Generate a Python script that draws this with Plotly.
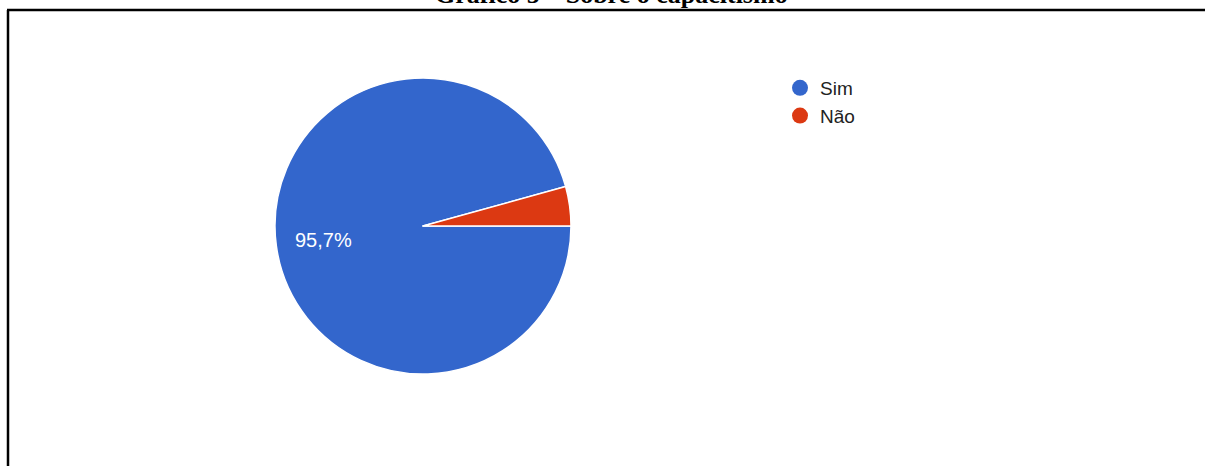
import math
import plotly.graph_objects as go

categories = ["Sim", "Não"]
values = [95.7, 4.3]
labels_text = ["95,7%", ""]
colors = ["#3366CC", "#DC3912"]
title_text = "Gráfico 5 – Sobre o capacitismo"

W, H = 1205, 466
cx, cy, r = 423, 226, 148

fig = go.Figure()
fig.add_trace(go.Pie(
    labels=categories, values=values,
    textinfo="none",
    marker=dict(colors=colors, line=dict(color="white", width=1.5)),
    sort=False, direction="clockwise", rotation=90,
    showlegend=False, hoverinfo="label+percent",
    domain=dict(x=[(cx - r) / W, (cx + r) / W], y=[1 - (cy + r) / H, 1 - (cy - r) / H]),
))
for c, col in zip(categories, colors):
    fig.add_trace(go.Scatter(x=[None], y=[None], mode="markers", name=c,
                             marker=dict(color=col, size=18, symbol="circle")))

# slice labels placed at each slice's mid-angle (from the values), like Google Charts
annotations = []
total = sum(values)
start = 0.0  # degrees, counter-clockwise from 3 o'clock; slices run clockwise
for v, t in zip(values, labels_text):
    sweep = 360.0 * v / total
    mid = math.radians(start - sweep / 2)
    start -= sweep
    if not t:
        continue
    px = cx + 0.68 * r * math.cos(mid)
    py = cy - 0.68 * r * math.sin(mid)
    annotations.append(dict(text=t, xref="paper", yref="paper", x=px / W, y=1 - py / H,
                            xanchor="center", yanchor="middle", showarrow=False,
                            font=dict(family="Liberation Sans", size=20, color="white")))

annotations.append(dict(text="<b>" + title_text + "</b>", xref="paper", yref="paper",
                        x=611 / W, y=1 + 5 / H, xanchor="center", yanchor="middle",
                        showarrow=False,
                        font=dict(family="Liberation Serif", size=26, color="black")))

fig.update_layout(
    width=W, height=H, margin=dict(l=0, r=0, t=0, b=0),
    paper_bgcolor="white", plot_bgcolor="white",
    xaxis=dict(visible=False), yaxis=dict(visible=False),
    legend=dict(x=780 / W, y=1 - 69 / H, xanchor="left", yanchor="top",
                font=dict(family="Liberation Sans", size=19, color="#222222"),
                bgcolor="rgba(0,0,0,0)"),
    annotations=annotations,
    shapes=[
        dict(type="line", xref="paper", yref="paper", x0=7 / W, x1=1, y0=1 - 10 / H, y1=1 - 10 / H,
             line=dict(color="black", width=2.5)),
        dict(type="line", xref="paper", yref="paper", x0=8 / W, x1=8 / W, y0=0, y1=1 - 10 / H,
             line=dict(color="black", width=2.5)),
    ],
)
fig.write_html("out.html", config={"displayModeBar": False},
               post_script="document.body.style.margin='0';")
